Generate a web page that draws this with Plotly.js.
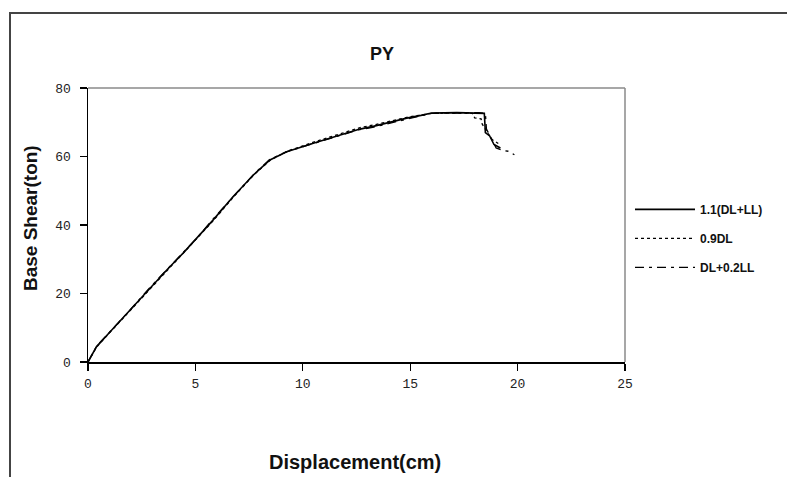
<!DOCTYPE html>
<html>
<head>
<meta charset="utf-8">
<script src="https://cdn.plot.ly/plotly-3.0.1.min.js"></script>
<style>html,body{margin:0;padding:0;background:#fff;}#chart{width:787px;height:477px;}</style>
</head>
<body>
<div id="chart"></div>
<script>
// Series names
const seriesNames = ["1.1(DL+LL)", "0.9DL", "DL+0.2LL"];

// Displacement (cm) and base shear (ton) values
const dispA = [0, 0.4, 1.0, 1.96, 2.97, 3.7, 4.43, 5.1, 5.83, 6.76, 7.7, 8.47, 9.25, 10.49, 11.73, 12.66, 13.28, 14.2, 14.84, 15.5, 16.0, 17.17, 18.0, 18.45, 18.5, 18.7, 18.9, 19.2];
const shearA = [0, 4.5, 8.6, 15.2, 22.1, 27.1, 31.8, 36.3, 41.5, 48.3, 54.6, 59.0, 61.4, 63.9, 66.3, 68.0, 68.8, 70.3, 71.2, 72.0, 72.7, 72.8, 72.7, 72.6, 67.0, 66.0, 63.5, 62.5];

const dispB = [0, 0.4, 1.0, 2.0, 3.0, 3.7, 4.45, 5.1, 5.85, 6.8, 7.7, 8.5, 9.3, 10.5, 11.7, 12.7, 13.3, 14.2, 14.9, 15.5, 16.0, 17.2, 17.9, 18.0, 18.3, 18.35, 18.6, 18.8, 19.1];
const shearB = [0, 4.4, 8.5, 15.3, 22.0, 27.0, 31.9, 36.2, 41.4, 48.4, 54.5, 59.0, 61.6, 64.2, 66.6, 68.5, 69.2, 70.6, 71.5, 72.1, 72.6, 72.7, 72.6, 71.3, 71.0, 69.5, 67.0, 65.0, 63.8];

const dispC = [0, 0.4, 1.0, 1.95, 2.95, 3.7, 4.4, 5.1, 5.8, 6.75, 7.7, 8.45, 9.2, 10.45, 11.7, 12.6, 13.25, 14.2, 14.8, 15.5, 16.0, 17.2, 18.2, 18.5, 18.55, 18.8, 19.0, 19.3, 19.6, 19.85];
const shearC = [0, 4.6, 8.7, 15.1, 22.2, 27.2, 31.7, 36.4, 41.6, 48.2, 54.7, 59.1, 61.3, 63.7, 66.1, 67.8, 68.5, 70.0, 71.0, 71.9, 72.6, 72.8, 72.8, 72.6, 68.0, 65.0, 62.5, 61.8, 61.5, 60.5];

// Axis ticks
const xTicks = [0, 5, 10, 15, 20, 25];
const yTicks = [0, 20, 40, 60, 80];

const titleText = "PY";
const xTitleText = "Displacement(cm)";
const yTitleText = "Base Shear(ton)";

const boldFont = "Arial, 'Liberation Sans', sans-serif";
const tickFont = {family: "'Liberation Mono', 'Courier New', monospace", size: 13, color: "#222"};

const traces = [
  {x: dispA, y: shearA, name: seriesNames[0], legendgroup: "a", mode: "lines", line: {color: "#000", width: 1.6, dash: "solid"}},
  {x: dispB, y: shearB, name: seriesNames[1], legendgroup: "b", mode: "lines", line: {color: "#000", width: 1.3, dash: "3px,3px"}},
  {x: dispC, y: shearC, name: seriesNames[2], legendgroup: "c", mode: "lines", line: {color: "#000", width: 1.3, dash: "9px,5px,3px,5px"}}
];

const layout = {
  width: 787, height: 477,
  margin: {l: 88, r: 162, t: 88, b: 115},
  paper_bgcolor: "#fff", plot_bgcolor: "#fff",
  showlegend: true,
  title: {text: titleText, font: {family: boldFont, size: 18, weight: "bold", color: "#111"}, x: 382/787, xref: "container", xanchor: "center", y: 1 - 54/477, yref: "container", yanchor: "middle"},
  xaxis: {
    range: [0, 25], tickvals: xTicks, ticktext: xTicks.map(String),
    showgrid: false, zeroline: false, showline: true, linecolor: "#000", linewidth: 1.5,
    ticks: "outside", ticklen: 7, tickcolor: "#000", tickwidth: 1.2, ticklabelstandoff: 2,
    tickfont: tickFont, fixedrange: true
  },
  yaxis: {
    range: [0, 80], tickvals: yTicks, ticktext: yTicks.map(String),
    showgrid: false, zeroline: false, showline: true, linecolor: "#000", linewidth: 1.5,
    ticks: "outside", ticklen: 7, tickcolor: "#000", tickwidth: 1.2, ticklabelstandoff: 6,
    tickfont: tickFont, fixedrange: true
  },
  legend: {
    x: 1.0093, xanchor: "left", y: 0.61, yanchor: "top",
    font: {family: boldFont, size: 12, weight: "bold", color: "#111"},
    bgcolor: "rgba(0,0,0,0)", borderwidth: 0,
    tracegroupgap: 10, itemwidth: 60
  },
  shapes: [
    {type: "line", xref: "paper", yref: "paper", x0: 0, x1: 1, y0: 1, y1: 1, line: {color: "#8a8a8a", width: 1.5}, layer: "below"},
    {type: "line", xref: "paper", yref: "paper", x0: 1, x1: 1, y0: 0, y1: 1, line: {color: "#8a8a8a", width: 1.5}, layer: "below"},
    {type: "rect", xref: "paper", yref: "paper", x0: (10 - 88)/537, x1: 1.5, y0: -0.6, y1: (362 - 13)/274, line: {color: "#444", width: 2}, layer: "below"}
  ],
  annotations: [
    {text: xTitleText, xref: "paper", yref: "paper", x: (355 - 88)/537, y: (362 - 462)/274, xanchor: "center", yanchor: "middle", showarrow: false, font: {family: boldFont, size: 20, weight: "bold", color: "#111"}},
    {text: yTitleText, xref: "paper", yref: "paper", x: (30 - 88)/537, y: (362 - 218)/274, xanchor: "center", yanchor: "middle", textangle: -90, showarrow: false, font: {family: boldFont, size: 19, weight: "bold", color: "#111"}}
  ]
};

Plotly.newPlot("chart", traces, layout, {displayModeBar: false, staticPlot: true});
</script>
</body>
</html>
